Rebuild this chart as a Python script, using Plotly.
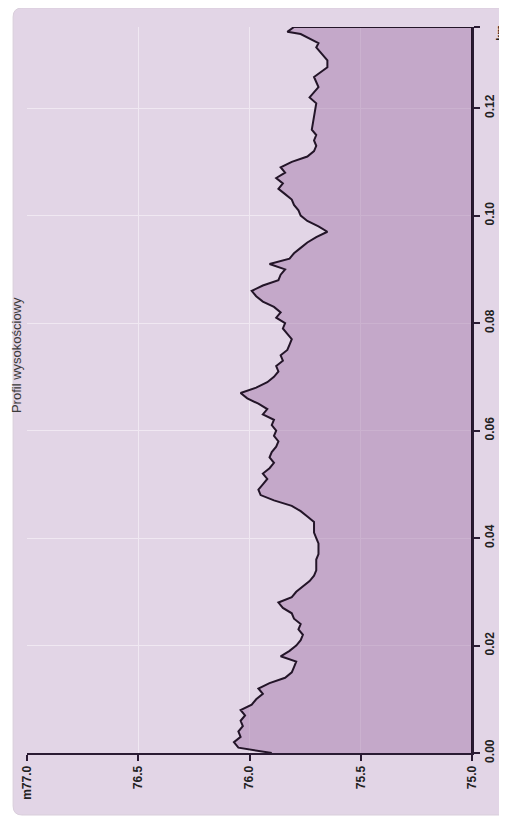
import plotly.graph_objects as go

# distance along the route (km)
distance_km = [0.000, 0.001, 0.002, 0.003, 0.004, 0.005, 0.006, 0.007, 0.008, 0.009,
               0.010, 0.011, 0.012, 0.013, 0.014, 0.015, 0.016, 0.017, 0.018, 0.019,
               0.020, 0.021, 0.022, 0.023, 0.024, 0.025, 0.026, 0.027, 0.028, 0.029,
               0.030, 0.031, 0.032, 0.033, 0.034, 0.035, 0.036, 0.037, 0.038, 0.039,
               0.040, 0.041, 0.042, 0.043, 0.044, 0.045, 0.046, 0.047, 0.048, 0.049,
               0.050, 0.051, 0.052, 0.053, 0.054, 0.055, 0.056, 0.057, 0.058, 0.059,
               0.060, 0.061, 0.062, 0.063, 0.064, 0.065, 0.066, 0.067, 0.068, 0.069,
               0.070, 0.071, 0.072, 0.073, 0.074, 0.075, 0.076, 0.077, 0.078, 0.079,
               0.080, 0.081, 0.082, 0.083, 0.084, 0.085, 0.086, 0.087, 0.088, 0.089,
               0.090, 0.091, 0.092, 0.093, 0.094, 0.095, 0.096, 0.097, 0.098, 0.099,
               0.100, 0.101, 0.102, 0.103, 0.104, 0.105, 0.106, 0.107, 0.108, 0.109,
               0.110, 0.111, 0.112, 0.113, 0.114, 0.115, 0.116, 0.1183, 0.1209, 0.1220,
               0.1239, 0.1258, 0.1276, 0.1289, 0.1313, 0.1321, 0.1338, 0.1342, 0.1351]

# elevation (m)
elevation_m = [75.90, 76.05, 76.07, 76.04, 76.05, 76.03, 76.04, 76.02, 76.04, 75.99,
               75.97, 75.94, 75.96, 75.91, 75.84, 75.81, 75.80, 75.79, 75.86, 75.82,
               75.79, 75.77, 75.76, 75.78, 75.77, 75.80, 75.81, 75.85, 75.87, 75.81,
               75.79, 75.76, 75.73, 75.71, 75.70, 75.70, 75.70, 75.69, 75.69, 75.69,
               75.70, 75.71, 75.71, 75.71, 75.74, 75.77, 75.81, 75.89, 75.95, 75.96,
               75.94, 75.92, 75.94, 75.91, 75.89, 75.91, 75.90, 75.88, 75.87, 75.89,
               75.88, 75.90, 75.89, 75.94, 75.92, 75.96, 76.01, 76.04, 75.97, 75.92,
               75.89, 75.87, 75.88, 75.85, 75.86, 75.83, 75.82, 75.81, 75.83, 75.85,
               75.84, 75.88, 75.86, 75.89, 75.94, 75.97, 75.99, 75.94, 75.87, 75.86,
               75.84, 75.91, 75.82, 75.80, 75.77, 75.74, 75.70, 75.65, 75.69, 75.74,
               75.77, 75.78, 75.80, 75.81, 75.84, 75.87, 75.85, 75.88, 75.84, 75.86,
               75.81, 75.74, 75.71, 75.70, 75.71, 75.70, 75.72, 75.71, 75.70, 75.73,
               75.69, 75.71, 75.65, 75.65, 75.70, 75.69, 75.77, 75.83, 75.80]

dist_ticks = [0.00, 0.02, 0.04, 0.06, 0.08, 0.10, 0.12]
dist_labels = ["0.00", "0.02", "0.04", "0.06", "0.08", "0.10", "0.12"]
elev_ticks = [75.0, 75.5, 76.0, 76.5, 77.0]
elev_labels = ["75.0", "75.5", "76.0", "76.5", "m77.0"]

E_MIN, E_MAX = 75.0, 77.0
D_MAX = distance_km[-1]

W, H = 507, 819
ML, MR, MT, MB = 16, 43, 19, 74
PW, PH = W - ML - MR, H - MT - MB


def px2paper(px, py):
    return (px - ML) / PW, (H - MB - py) / PH


# closed area polygon: profile, then down to the 75 m baseline
poly_x = elevation_m + [E_MIN, E_MIN]
poly_y = distance_km + [D_MAX, 0.0]

fig = go.Figure()
fig.add_trace(go.Scatter(
    x=poly_x, y=poly_y, mode="lines", fill="toself",
    fillcolor="rgba(166,123,172,0.5)",
    line=dict(color="#231528", width=2),
    hoverinfo="skip", showlegend=False,
))

# rounded panel
r = 9
L, R, T, B = 2, 520, 0, 807
def P(px, py):
    x, y = px2paper(px, py)
    return f"{x:.5f},{y:.5f}"
path = (f"M {P(L + r, T)} L {P(R - r, T)} Q {P(R, T)} {P(R, T + r)} "
        f"L {P(R, B - r)} Q {P(R, B)} {P(R - r, B)} L {P(L + r, B)} "
        f"Q {P(L, B)} {P(L, B - r)} L {P(L, T + r)} Q {P(L, T)} {P(L + r, T)} Z")
fig.add_shape(type="path", path=path, xref="paper", yref="paper",
              fillcolor="#e2d5e6", line=dict(color="#d9cedb", width=1), layer="below")

fig.update_layout(
    width=W, height=H,
    margin=dict(l=ML, r=MR, t=MT, b=MB),
    paper_bgcolor="white",
    plot_bgcolor="rgba(0,0,0,0)",
    font=dict(family="Liberation Sans, Arial, sans-serif", color="#222222", size=12),
    xaxis=dict(
        range=[E_MAX, E_MIN], tickvals=elev_ticks, ticktext=elev_labels,
        tickangle=-90, showgrid=True, gridcolor="#f0e8f2", gridwidth=1,
        zeroline=False, showline=True, linecolor="#2a1b33", linewidth=2,
        ticks="outside", ticklen=6, tickwidth=2, tickcolor="#2a1b33",
        tickfont=dict(size=12, color="#222222", weight="bold"),
    ),
    yaxis=dict(
        range=[0, D_MAX], side="right",
        tickvals=dist_ticks + [D_MAX], ticktext=dist_labels + [""],
        tickangle=-90, showgrid=True, gridcolor="#f0e8f2", gridwidth=1,
        zeroline=False, showline=True, linecolor="#2a1b33", linewidth=2,
        ticks="outside", ticklen=6, tickwidth=2, tickcolor="#2a1b33",
        tickfont=dict(size=12, color="#222222", weight="bold"),
    ),
)

tx, ty = px2paper(5, 347)
fig.add_annotation(text="Profil wysokościowy", x=tx, y=ty, xref="paper", yref="paper",
                   textangle=-90, showarrow=False, xanchor="center", yanchor="middle",
                   font=dict(size=13, color="#3a3a3a"))
kx, ky = px2paper(492, 25)
fig.add_annotation(text="km", x=kx, y=ky, xref="paper", yref="paper",
                   textangle=-90, showarrow=False, xanchor="center", yanchor="middle",
                   font=dict(size=11, color="#222222", weight="bold"))

fig.write_html("out.html")
